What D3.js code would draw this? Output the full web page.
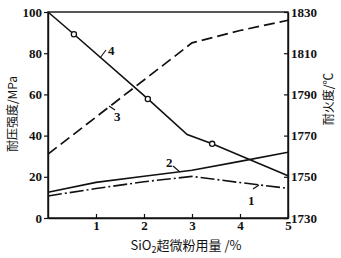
<!DOCTYPE html>
<html>
<head>
<meta charset="utf-8">
<script src="https://cdn.jsdelivr.net/npm/d3@7.9.0/dist/d3.min.js"></script>
<style>
  body { margin: 0; background: #fff; }
  svg text { fill: #111; }
</style>
</head>
<body>
<svg id="chart" width="341" height="258"></svg>
<script>
// SiO2 content (%)
const xTicks = [1, 2, 3, 4, 5];
const leftTicks = [0, 20, 40, 60, 80, 100];
const rightTicks = [1730, 1750, 1770, 1790, 1810, 1830];

// curve 1: dash-dot, left axis (MPa)
const curve1 = [[0, 10.7], [1, 14.3], [2, 17.6], [3, 20.2], [4, 17.2], [5, 14.4]];
// curve 2: solid, left axis (MPa)
const curve2 = [[0, 12.5], [1, 17.3], [2, 20.3], [3, 23.2], [4, 27.5], [5, 31.9]];
// curve 3: dashed, right axis (deg C)
const curve3 = [[0, 1761], [1, 1779], [2, 1797], [3, 1815], [4, 1821], [5, 1826]];
// curve 4: solid with circles, left axis (MPa)
const curve4 = [[0, 100], [0.54, 89.2], [2.08, 57.8], [2.9, 40.5], [3.42, 36], [5, 20.5]];
const curve4Marks = [[0.54, 89.2], [2.08, 57.8], [3.42, 36]];

const svg = d3.select('#chart');
const m = { left: 48, right: 288, top: 12, bottom: 218 };

const x = d3.scaleLinear().domain([0, 5]).range([m.left, m.right]);
const yL = d3.scaleLinear().domain([0, 100]).range([m.bottom, m.top]);
const yR = d3.scaleLinear().domain([1730, 1830]).range([m.bottom, m.top]);

const numFont = '"Liberation Serif", "DejaVu Serif", serif';
const cjkFont = '"Noto Sans CJK SC", sans-serif';

// frame
svg.append('rect')
  .attr('x', m.left).attr('y', m.top)
  .attr('width', m.right - m.left).attr('height', m.bottom - m.top)
  .attr('fill', 'none').attr('stroke', '#111').attr('stroke-width', 1.4);

// axes
const fmt = d3.format('d');
const gx = svg.append('g').attr('transform', `translate(0,${m.bottom})`)
  .call(d3.axisBottom(x).tickValues(xTicks).tickFormat(fmt).tickSizeInner(-4).tickSizeOuter(0).tickPadding(3));
const gl = svg.append('g').attr('transform', `translate(${m.left},0)`)
  .call(d3.axisLeft(yL).tickValues(leftTicks).tickFormat(fmt).tickSizeInner(4).tickSizeOuter(0).tickPadding(2));
const gr = svg.append('g').attr('transform', `translate(${m.right},0)`)
  .call(d3.axisRight(yR).tickValues(rightTicks).tickFormat(fmt).tickSizeInner(-4).tickSizeOuter(0).tickPadding(3));

[gx, gl, gr].forEach((g) => {
  g.attr('font-family', numFont).attr('font-size', 13);
  g.select('.domain').attr('stroke', '#111').attr('stroke-width', 1.4);
  g.selectAll('.tick line').attr('stroke', '#111').attr('stroke-width', 1.2);
  g.selectAll('.tick text')
    .attr('fill', '#111')
    .style('font-family', numFont)
    .style('font-size', '13px')
    .style('font-weight', 'bold');
});

const lineL = d3.line().x((d) => x(d[0])).y((d) => yL(d[1]));
const lineR = d3.line().x((d) => x(d[0])).y((d) => yR(d[1]));

svg.append('path').datum(curve1).attr('d', lineL)
  .attr('fill', 'none').attr('stroke', '#111').attr('stroke-width', 1.6)
  .attr('stroke-dasharray', '14,3,2,3');
svg.append('path').datum(curve2).attr('d', lineL)
  .attr('fill', 'none').attr('stroke', '#111').attr('stroke-width', 1.6);
svg.append('path').datum(curve3).attr('d', lineR)
  .attr('fill', 'none').attr('stroke', '#111').attr('stroke-width', 1.7)
  .attr('stroke-dasharray', '11,5');
svg.append('path').datum(curve4).attr('d', lineL)
  .attr('fill', 'none').attr('stroke', '#111').attr('stroke-width', 1.6);

svg.selectAll('circle.m').data(curve4Marks).enter().append('circle')
  .attr('class', 'm')
  .attr('cx', (d) => x(d[0])).attr('cy', (d) => yL(d[1])).attr('r', 2.6)
  .attr('fill', '#fff').attr('stroke', '#111').attr('stroke-width', 1.3);

// curve labels with leader strokes
const labels = [
  { t: '4', lx: [100, 58, 106, 50], tx: 108, ty: 55 },
  { t: '3', lx: [109, 106, 115, 110], tx: 114, ty: 121 },
  { t: '2', lx: [173, 166, 180, 172], tx: 166, ty: 167 },
  { t: '1', lx: [253, 189, 259, 185], tx: 248, ty: 205 }
];
labels.forEach((l) => {
  svg.append('line')
    .attr('x1', l.lx[0]).attr('y1', l.lx[1]).attr('x2', l.lx[2]).attr('y2', l.lx[3])
    .attr('stroke', '#111').attr('stroke-width', 1.1);
  svg.append('text').attr('x', l.tx).attr('y', l.ty).text(l.t)
    .style('font-family', numFont).style('font-size', '13px').style('font-weight', 'bold');
});

// axis titles
svg.append('text')
  .attr('transform', 'translate(17,114) rotate(-90)')
  .attr('text-anchor', 'middle')
  .style('font-family', cjkFont).style('font-size', '12px')
  .text('耐压强度/MPa');
svg.append('text')
  .attr('transform', 'translate(333,99) rotate(-90)')
  .attr('text-anchor', 'middle')
  .style('font-family', cjkFont).style('font-size', '12px')
  .text('耐火度/℃');

const xt = svg.append('text')
  .attr('x', 186).attr('y', 250)
  .attr('text-anchor', 'middle')
  .style('font-family', cjkFont).style('font-size', '13px');
xt.append('tspan').text('SiO');
xt.append('tspan').attr('dy', 3).style('font-size', '9px').text('2');
xt.append('tspan').attr('dy', -3).text('超微粉用量 /%');
</script>
</body>
</html>
